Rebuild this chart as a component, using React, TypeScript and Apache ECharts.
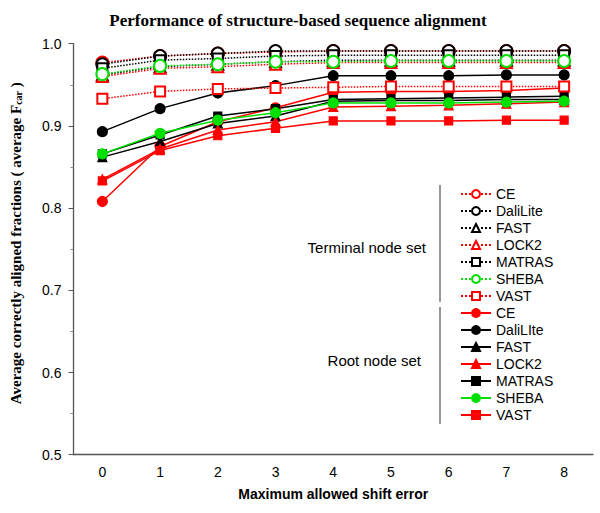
import React, { useEffect, useRef } from "react";
import * as echarts from "echarts";

const shifts = ["0", "1", "2", "3", "4", "5", "6", "7", "8"];
const yTicks = [0.5, 0.6, 0.7, 0.8, 0.9, 1.0];

// Terminal node set (dotted, open symbols)
const tCE = [0.977, 0.985, 0.988, 0.99, 0.991, 0.991, 0.991, 0.991, 0.991];
const tDaliLite = [0.975, 0.985, 0.988, 0.991, 0.991, 0.991, 0.991, 0.991, 0.991];
const tFAST = [0.962, 0.972, 0.975, 0.978, 0.98, 0.98, 0.98, 0.98, 0.98];
const tLOCK2 = [0.96, 0.97, 0.972, 0.975, 0.977, 0.977, 0.977, 0.977, 0.977];
const tMATRAS = [0.97, 0.98, 0.982, 0.985, 0.986, 0.986, 0.986, 0.986, 0.986];
const tSHEBA = [0.963, 0.973, 0.975, 0.978, 0.978, 0.979, 0.979, 0.979, 0.979];
const tVAST = [0.933, 0.942, 0.945, 0.946, 0.947, 0.948, 0.948, 0.948, 0.948];

// Root node set (solid, filled symbols)
const rCE = [0.808, 0.875, 0.905, 0.922, 0.941, 0.942, 0.942, 0.943, 0.946];
const rDaliLIte = [0.893, 0.921, 0.94, 0.949, 0.961, 0.961, 0.961, 0.962, 0.962];
const rFAST = [0.862, 0.881, 0.903, 0.912, 0.93, 0.931, 0.931, 0.932, 0.932];
const rLOCK2 = [0.835, 0.872, 0.895, 0.905, 0.923, 0.924, 0.925, 0.927, 0.929];
const rMATRAS = [0.866, 0.889, 0.912, 0.921, 0.932, 0.933, 0.934, 0.935, 0.936];
const rSHEBA = [0.866, 0.891, 0.907, 0.916, 0.928, 0.928, 0.928, 0.929, 0.93];
const rVAST = [0.833, 0.87, 0.888, 0.897, 0.906, 0.906, 0.906, 0.907, 0.907];

const RED = "#ff0000";
const BLACK = "#000000";
const GREEN = "#00e000";

const terminal = [
  { name: "T|CE", data: tCE, color: RED, symbol: "emptyCircle", size: 12 },
  { name: "T|DaliLite", data: tDaliLite, color: BLACK, symbol: "emptyCircle", size: 12 },
  { name: "T|FAST", data: tFAST, color: BLACK, symbol: "emptyTriangle", size: 11 },
  { name: "T|LOCK2", data: tLOCK2, color: RED, symbol: "emptyTriangle", size: 11 },
  { name: "T|MATRAS", data: tMATRAS, color: BLACK, symbol: "emptyRect", size: 10 },
  { name: "T|SHEBA", data: tSHEBA, color: GREEN, symbol: "emptyCircle", size: 12 },
  { name: "T|VAST", data: tVAST, color: RED, symbol: "emptyRect", size: 10 },
];
const root = [
  { name: "R|CE", data: rCE, color: RED, symbol: "circle", size: 10 },
  { name: "R|DaliLIte", data: rDaliLIte, color: BLACK, symbol: "circle", size: 10 },
  { name: "R|FAST", data: rFAST, color: BLACK, symbol: "triangle", size: 9 },
  { name: "R|LOCK2", data: rLOCK2, color: RED, symbol: "triangle", size: 9 },
  { name: "R|MATRAS", data: rMATRAS, color: BLACK, symbol: "rect", size: 8 },
  { name: "R|SHEBA", data: rSHEBA, color: GREEN, symbol: "circle", size: 10 },
  { name: "R|VAST", data: rVAST, color: RED, symbol: "rect", size: 8 },
];

export default function App() {
  const ref = useRef<HTMLDivElement>(null);
  useEffect(() => {
    if (!ref.current) return;
    const chart = echarts.init(ref.current, undefined, { renderer: "svg" });
    const mk = (s: any, dotted: boolean) => ({
      type: "line",
      name: s.name,
      data: s.data,
      symbol: s.symbol,
      symbolSize: s.size,
      showAllSymbol: true,
      itemStyle: { color: s.color, borderColor: s.color, borderWidth: 1.2 },
      lineStyle: { color: s.color, width: 1.5, type: dotted ? "dotted" : "solid" },
      z: dotted ? 3 : 2,
    });
    const legendCommon = {
      orient: "vertical",
      left: 455,
      itemWidth: 30,
      itemHeight: 10,
      itemGap: 3,
      selectedMode: false,
      formatter: (n: string) => n.split("|")[1],
      textStyle: { fontFamily: "Liberation Sans, Arial", fontSize: 14, color: "#000" },
    };
    chart.setOption({
      animation: false,
      backgroundColor: "#fff",
      title: {
        text: "Performance of structure-based sequence alignment",
        left: 293,
        textAlign: "center",
        top: 7,
        textStyle: { fontFamily: "Liberation Serif, Times New Roman", fontWeight: "bold", fontSize: 17, color: "#000" },
      },
      legend: [
        { ...legendCommon, top: 182, data: terminal.map((s) => s.name) },
        { ...legendCommon, top: 301, data: root.map((s) => s.name) },
      ],
      grid: { left: 73, right: 7, top: 43.7, bottom: 58.3 },
      xAxis: {
        type: "category",
        data: shifts,
        boundaryGap: true,
        name: "Maximum allowed shift error",
        nameLocation: "middle",
        nameGap: 32,
        nameTextStyle: { fontFamily: "Liberation Sans, Arial", fontWeight: "bold", fontSize: 14, color: "#000" },
        axisLine: { lineStyle: { color: "#555", width: 1.3 } },
        axisTick: { alignWithLabel: true, inside: true, length: 6, lineStyle: { color: "#555" } },
        axisLabel: { fontFamily: "Liberation Sans, Arial", fontSize: 14, color: "#000", margin: 10 },
        splitLine: { show: false },
      },
      yAxis: {
        type: "value",
        min: yTicks[0],
        max: yTicks[yTicks.length - 1],
        interval: 0.1,
        name: "{a|Average correctly aligned fractions ( average F}{s|car}{a| )}",
        nameLocation: "middle",
        nameRotate: 90,
        nameGap: 50,
        nameTextStyle: {
          padding: [0, 0, 0, 12],
          rich: {
            a: { fontFamily: "Liberation Serif, Times New Roman", fontWeight: "bold", fontSize: 15, color: "#000" },
            s: { fontFamily: "Liberation Serif, Times New Roman", fontWeight: "bold", fontSize: 10, color: "#000", verticalAlign: "bottom", padding: [6, 0, 0, 0] },
          },
        },
        axisLine: { show: true, lineStyle: { color: "#555", width: 1.3 } },
        axisTick: { show: true, length: 5, lineStyle: { color: "#555" } },
        minorTick: { show: true, splitNumber: 2, length: 3, lineStyle: { color: "#888" } },
        axisLabel: {
          fontFamily: "Liberation Sans, Arial",
          fontSize: 14,
          color: "#000",
          margin: 12,
          formatter: (v: number) => v.toFixed(1),
        },
        splitLine: { show: false },
      },
      graphic: [
        { type: "line", shape: { x1: 440, y1: 185, x2: 440, y2: 302 }, style: { stroke: "#777", lineWidth: 1.5 } },
        { type: "line", shape: { x1: 440, y1: 307, x2: 440, y2: 424 }, style: { stroke: "#777", lineWidth: 1.5 } },
        {
          type: "text",
          x: 426,
          y: 247,
          style: { text: "Terminal node set", align: "right", verticalAlign: "middle", font: "15px 'Liberation Sans', Arial", fill: "#000" },
        },
        {
          type: "text",
          x: 421,
          y: 360,
          style: { text: "Root node set", align: "right", verticalAlign: "middle", font: "15px 'Liberation Sans', Arial", fill: "#000" },
        },
      ],
      series: [...root.map((s) => mk(s, false)), ...terminal.map((s) => mk(s, true))],
    });
    return () => chart.dispose();
  }, []);
  return <div ref={ref} style={{ width: 600, height: 513, position: "absolute", left: 0, top: 0 }} />;
}
